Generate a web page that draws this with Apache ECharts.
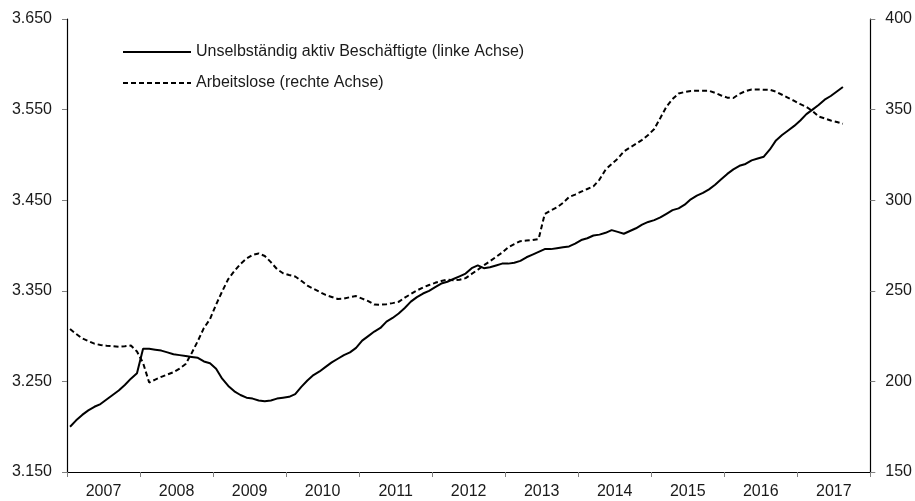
<!doctype html>
<html lang="de">
  <head>
    <meta charset="UTF-8" />
    <title>Beschäftigte und Arbeitslose</title>
    <script src="https://cdn.jsdelivr.net/npm/echarts@6/dist/echarts.min.js"></script>
    <style>
      html, body { margin: 0; padding: 0; background: #fff; }
      #chart { width: 915px; height: 501px; }
    </style>
  </head>
  <body>
    <div id="chart"></div>
    <script>
      // monthly values, Jan 2007 - Aug 2017 (in thousands)
      const years = ['2007', '2008', '2009', '2010', '2011', '2012', '2013', '2014', '2015', '2016', '2017'];

      const employed = [
        3200, 3207, 3213, 3218, 3222, 3225, 3230, 3235, 3240, 3246, 3253, 3259,
        3286, 3286, 3285, 3284, 3282, 3280, 3279, 3278, 3277, 3276, 3272, 3270,
        3264, 3253, 3245, 3239, 3235, 3232, 3231, 3229, 3228, 3229, 3231, 3232,
        3233, 3236, 3244, 3251, 3257, 3261, 3266, 3271, 3275, 3279, 3282, 3287,
        3295, 3300, 3305, 3309, 3316, 3320, 3325, 3331, 3338, 3343, 3347, 3350,
        3354, 3358, 3360, 3363, 3366, 3369, 3375, 3378, 3375, 3376, 3378, 3380,
        3380, 3381, 3383, 3387, 3390, 3393, 3396, 3396, 3397, 3398, 3399, 3402,
        3406, 3408, 3411, 3412, 3414, 3417, 3415, 3413, 3416, 3419, 3423, 3426,
        3428, 3431, 3435, 3439, 3441, 3445, 3451, 3455, 3458, 3462, 3467, 3473,
        3479, 3484, 3488, 3490, 3494, 3496, 3498, 3506, 3516, 3522, 3527, 3532,
        3538, 3545, 3550, 3555, 3561, 3565, 3570, 3575
      ];

      const unemployed = [
        228.9, 226.2, 223.7, 222.3, 220.8, 220.1, 219.7, 219.4, 219.1, 219.4, 219.8, 216.5,
        210.2, 199.4, 201.0, 202.5, 203.8, 205.1, 207.1, 209.6, 215.7, 222.3, 229.5, 234.4,
        242.4, 249.7, 256.5, 260.9, 264.8, 267.8, 269.8, 270.6, 269.2, 265.8, 262.0, 259.7,
        258.7, 257.9, 255.5, 252.9, 251.1, 249.4, 247.7, 246.6, 245.5, 245.7, 246.5, 247.1,
        245.7, 244.3, 242.4, 242.3, 242.6, 243.2, 243.9, 246.2, 248.2, 250.2, 251.8, 253.2,
        254.4, 255.4, 256.2, 255.8, 256.1, 257.0, 259.3, 261.6, 264.1, 266.3, 268.7, 271.1,
        274.0, 275.8, 277.4, 277.7, 278.0, 278.6, 292.4, 294.3, 296.0, 298.5, 301.8, 303.1,
        304.7, 306.2, 307.6, 311.4, 316.9, 320.0, 322.9, 326.9, 329.1, 331.1, 333.3, 336.0,
        339.3, 345.4, 351.6, 355.8, 358.9, 359.7, 360.3, 360.4, 360.4, 360.4, 359.2, 357.8,
        356.6, 356.4, 358.7, 360.2, 361.1, 361.1, 361.0, 360.9, 359.9, 358.2, 356.5, 354.8,
        353.0, 351.5, 349.2, 346.2, 345.1, 344.0, 343.2, 342.2
      ];

      const font = 'Liberation Sans, Arial, sans-serif';
      const chart = echarts.init(document.getElementById('chart'));

      // month i is drawn in the middle of its month slot
      const toPoints = (arr) => arr.map((v, i) => [i + 0.5, v]);

      chart.setOption({
        animation: false,
        textStyle: { fontFamily: font },
        grid: { left: 67, right: 42, top: 19, bottom: 29 },
        legend: {
          orient: 'vertical',
          left: 122,
          top: 44,
          padding: 0,
          itemWidth: 68,
          itemHeight: 14,
          itemGap: 15,
          itemStyle: { opacity: 0 },
          textStyle: { fontSize: 16, color: '#1a1a1a', fontFamily: font },
          data: ['Unselbständig aktiv Beschäftigte (linke Achse)', 'Arbeitslose (rechte Achse)']
        },
        xAxis: [
          {
            type: 'value',
            min: 0,
            max: 132,
            interval: 12,
            axisLine: { show: true, lineStyle: { color: '#000', width: 1.2 } },
            axisTick: { show: true, length: 5, lineStyle: { color: '#808080' } },
            axisLabel: { show: false },
            splitLine: { show: false }
          },
          {
            type: 'category',
            position: 'bottom',
            data: years,
            boundaryGap: true,
            axisLine: { show: false },
            axisTick: { show: false },
            axisLabel: { fontSize: 16, color: '#1a1a1a', margin: 12, fontFamily: font },
            splitLine: { show: false }
          }
        ],
        yAxis: [
          {
            type: 'value',
            position: 'left',
            min: 3150,
            max: 3650,
            interval: 100,
            axisLine: { show: true, lineStyle: { color: '#000', width: 1.2 } },
            axisTick: { show: true, length: 5, lineStyle: { color: '#808080' } },
            axisLabel: {
              fontSize: 16,
              color: '#1a1a1a',
              margin: 15,
              fontFamily: font,
              formatter: (v) => (v / 1000).toFixed(3)
            },
            splitLine: { show: false }
          },
          {
            type: 'value',
            position: 'right',
            min: 150,
            max: 400,
            interval: 50,
            axisLine: { show: true, lineStyle: { color: '#000', width: 1.2 } },
            axisTick: { show: true, length: 5, lineStyle: { color: '#808080' } },
            axisLabel: { fontSize: 16, color: '#1a1a1a', margin: 15, fontFamily: font },
            splitLine: { show: false }
          }
        ],
        series: [
          {
            name: 'Unselbständig aktiv Beschäftigte (linke Achse)',
            type: 'line',
            xAxisIndex: 0,
            yAxisIndex: 0,
            symbol: 'none',
            smooth: false,
            data: toPoints(employed),
            lineStyle: { color: '#000', width: 2 },
            itemStyle: { color: '#000' }
          },
          {
            name: 'Arbeitslose (rechte Achse)',
            type: 'line',
            xAxisIndex: 0,
            yAxisIndex: 1,
            symbol: 'none',
            smooth: false,
            data: toPoints(unemployed),
            lineStyle: { color: '#000', width: 2, type: [5, 3] },
            itemStyle: { color: '#000' }
          }
        ]
      });
    </script>
  </body>
</html>
